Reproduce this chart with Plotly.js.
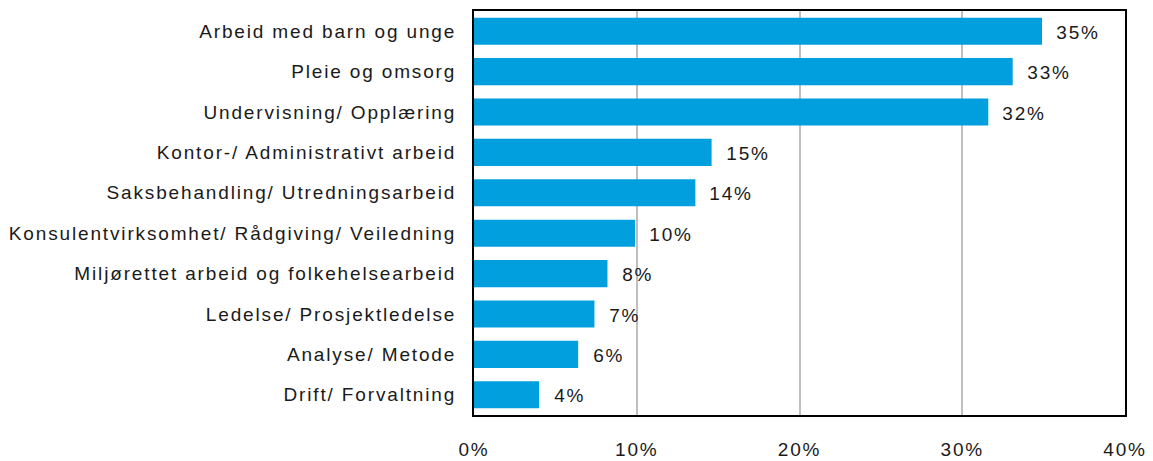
<!DOCTYPE html>
<html>
<head>
<meta charset="utf-8">
<script src="https://cdn.plot.ly/plotly-3.0.1.min.js"></script>
<style>
html,body{margin:0;padding:0;background:#fff;}
#chart{width:1153px;height:461px;}
#chart svg text{letter-spacing:1.85px;}
</style>
</head>
<body>
<div id="chart"></div>
<script>
const categories = [
  "Arbeid med barn og unge",
  "Pleie og omsorg",
  "Undervisning/ Opplæring",
  "Kontor-/ Administrativt arbeid",
  "Saksbehandling/ Utredningsarbeid",
  "Konsulentvirksomhet/ Rådgiving/ Veiledning",
  "Miljørettet arbeid og folkehelsearbeid",
  "Ledelse/ Prosjektledelse",
  "Analyse/ Metode",
  "Drift/ Forvaltning"
];
const values = [34.9, 33.1, 31.6, 14.6, 13.6, 9.9, 8.2, 7.4, 6.4, 4.0];
const valueLabels = ["35%", "33%", "32%", "15%", "14%", "10%", "8%", "7%", "6%", "4%"];
const xTickVals = [0, 10, 20, 30, 40];
const xTickText = ["0%", "10%", "20%", "30%", "40%"];

const fontFamily = "Liberation Sans, Arial, sans-serif";
const textColor = "#1a1a1a";
const fontSize = 19;

const trace = {
  type: "bar",
  orientation: "h",
  x: values,
  y: categories,
  marker: {color: "#029fde"},
  hoverinfo: "none"
};

const annotations = values.map((v, i) => ({
  x: v, y: categories[i], xref: "x", yref: "y",
  text: valueLabels[i], showarrow: false,
  xanchor: "left", xshift: 15, yshift: -1,
  font: {family: fontFamily, size: fontSize, color: textColor}
}));

const layout = {
  width: 1153, height: 461,
  margin: {l: 474, r: 28, t: 11, b: 46},
  paper_bgcolor: "#fff", plot_bgcolor: "#fff",
  showlegend: false,
  bargap: 0.33,
  font: {family: fontFamily, size: fontSize, color: textColor},
  xaxis: {
    range: [0, 40],
    tickvals: xTickVals, ticktext: xTickText,
    showgrid: true, gridcolor: "#bfbfbf", gridwidth: 2,
    zeroline: false,
    ticks: "outside", ticklen: 16, tickcolor: "rgba(0,0,0,0)",
    showline: true, linecolor: "#000", linewidth: 2, mirror: true,
    tickfont: {family: fontFamily, size: fontSize, color: textColor},
    fixedrange: true
  },
  yaxis: {
    autorange: "reversed",
    showgrid: false, zeroline: false,
    ticks: "outside", ticklen: 12, tickcolor: "rgba(0,0,0,0)",
    showline: true, linecolor: "#000", linewidth: 2, mirror: true,
    tickfont: {family: fontFamily, size: fontSize, color: textColor},
    fixedrange: true
  },
  annotations: annotations
};

Plotly.newPlot("chart", [trace], layout, {displayModeBar: false, staticPlot: true});
</script>
</body>
</html>
